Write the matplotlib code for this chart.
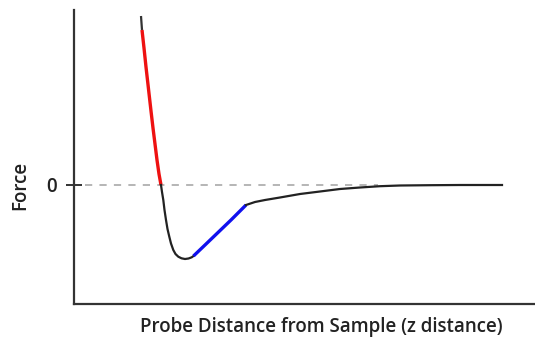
import numpy as np
import matplotlib
matplotlib.use('Agg')
import matplotlib.pyplot as plt

# curve (x: distance units, y: force, 0 = dashed line)
x_top = [141, 142]
y_top = [169, 155]

x_rep = [142, 144, 146, 148.5, 151, 153, 155, 157, 159, 161]
y_rep = [155, 137, 118, 96, 74, 57, 41, 25, 11, 0]

x_well = [161, 162, 163.3, 164.5, 166, 167.5, 169.3, 171, 173.3, 175.5, 178.3, 181.5, 185, 188.5, 191.7, 193.5]
y_well = [0, -7, -15, -25, -35, -44, -51.7, -58.5, -65, -69, -71.7, -73.3, -74, -73.5, -72.3, -71]

x_att = [193.5, 205, 218, 231, 246]
y_att = [-71, -60, -47.5, -35, -20]

x_tail = [246, 255, 265, 280, 300, 320, 340, 360, 380, 400, 430, 460, 502]
y_tail = [-20, -17, -15, -12.5, -9, -6.5, -4, -2.5, -1.2, -0.5, -0.2, 0, 0]

fig = plt.figure(figsize=(5.35, 3.42), dpi=100)
ax = fig.add_axes([74/535, 1-304/342, 1-74/535, 294/342])

ax.axhline(0, xmin=(85-74)/461, xmax=(378-74)/461, color='#b0b0b0', lw=1.3, ls=(0, (4, 4)))
ax.plot(x_top, y_top, color='#333333', lw=1.6, solid_capstyle='butt')
ax.plot(x_rep, y_rep, color='#ee1111', lw=2.4, solid_capstyle='butt')
ax.plot(x_well, y_well, color='#222222', lw=1.6)
ax.plot(x_att, y_att, color='#1010ee', lw=2.4, solid_capstyle='butt')
ax.plot(x_tail, y_tail, color='#222222', lw=1.6)

ax.set_xlim(74, 535)
ax.set_ylim(185-304, 185-10)
ax.spines['top'].set_visible(False)
ax.spines['right'].set_visible(False)
for s in ['left', 'bottom']:
    ax.spines[s].set_linewidth(1.6)
    ax.spines[s].set_color('#333333')
ax.set_xticks([])
ax.set_yticks([0])
ax.set_yticklabels(['0'], fontsize=13.5, family='Open Sans', weight='semibold', color='#222222')
ax.tick_params(axis='y', direction='inout', length=12, width=1.4, color='#333333', pad=6)

fig.text(321/535, 1-327/342, 'Probe Distance from Sample (z distance)', ha='center', va='center',
         fontsize=13.5, family='Open Sans', weight='semibold', color='#222222')
fig.text(20/535, 1-185/342, 'Force', ha='center', va='center', rotation=90,
         fontsize=13.5, family='Open Sans', weight='semibold', color='#222222')

fig.savefig('out.png', dpi=100)
